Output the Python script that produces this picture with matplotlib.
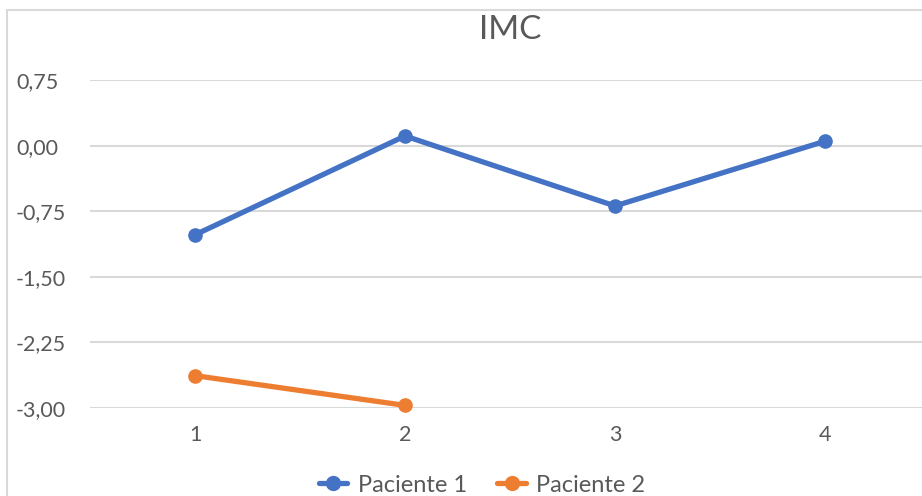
import matplotlib
matplotlib.use("Agg")
import matplotlib.pyplot as plt
import matplotlib.transforms as mtransforms
from matplotlib.patches import Rectangle

# Data
mediciones = [1, 2, 3, 4]
paciente_1 = [-1.02, 0.11, -0.69, 0.05]
mediciones_p2 = [1, 2]
paciente_2 = [-2.63, -2.97]
y_ticks = [-3.00, -2.25, -1.50, -0.75, 0.00, 0.75]
y_tick_labels = ["-3,00", "-2,25", "-1,50", "-0,75", "0,00", "0,75"]

plt.rcParams["font.family"] = ["Lato", "DejaVu Sans"]
TEXT = "#595959"
GRID = "#D9D9D9"
BLUE = "#4472C4"
ORANGE = "#ED7D31"

W, H = 922, 496
fig = plt.figure(figsize=(W / 100, H / 100), dpi=100)

# chart frame
fig.patches.append(Rectangle((7 / W, -0.2), 1.2, 1.2 - 10 / H,
                             transform=fig.transFigure, fill=False,
                             edgecolor="#D9D9D9", linewidth=1.5))

left, right = 90 / W, 1.0
bottom, top = 1 - 408 / H, 1 - 80 / H
ax = fig.add_axes([left, bottom, right - left, top - bottom])

ax.plot(mediciones, paciente_1, color=BLUE, lw=3.8, marker="o", ms=9.5,
        solid_capstyle="round", label="Paciente 1", zorder=3, clip_on=False)
ax.plot(mediciones_p2, paciente_2, color=ORANGE, lw=3.8, marker="o", ms=9.5,
        solid_capstyle="round", label="Paciente 2", zorder=3, clip_on=False)

ax.set_xlim(0.5, 0.5 + (W - 90) / 210)
ax.set_ylim(-3.0, 0.75)
ax.set_yticks(y_ticks)
ax.set_yticklabels(y_tick_labels)
ax.set_xticks(mediciones)
ax.set_xticklabels([str(m) for m in mediciones])
ax.grid(axis="y", color=GRID, lw=1.5)
ax.set_axisbelow(True)
for s in ax.spines.values():
    s.set_visible(False)
ax.tick_params(length=0, labelsize=15.5, colors=TEXT)
ax.tick_params(axis="x", pad=12)
# y labels left-aligned near the frame edge
ytrans = mtransforms.blended_transform_factory(fig.transFigure, ax.transData)
for lbl in ax.get_yticklabels():
    lbl.set_horizontalalignment("left")
    lbl.set_transform(ytrans)
    lbl.set_x(16 / W)

fig.text(510 / W, 1 - 30 / H, "IMC", ha="center", va="center",
         fontsize=24, color=TEXT)

leg = fig.legend(loc="center", bbox_to_anchor=(482 / W, 1 - 485 / H),
                 ncol=2, frameon=False, fontsize=17, handlelength=1.2,
                 columnspacing=1.3, handletextpad=0.45, labelcolor=TEXT,
                 markerscale=1.05)

fig.savefig("out.png", dpi=100)
